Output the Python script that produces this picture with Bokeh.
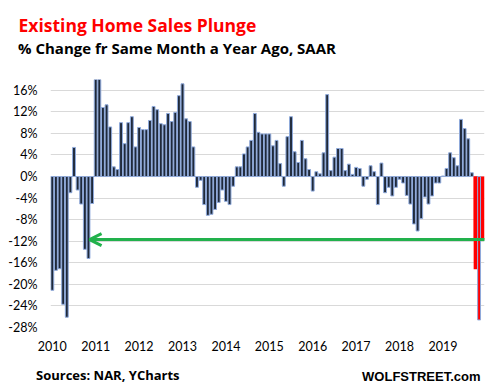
from bokeh.plotting import figure
from bokeh.layouts import column
from bokeh.models import (ColumnDataSource, FixedTicker, PrintfTickFormatter, Label,
                          Arrow, OpenHead, Range1d, Plot)
from bokeh.embed import file_html
from bokeh.resources import INLINE

# ---------------- data ----------------
# monthly y/y % change of existing home sales (SAAR), first bar labelled 2010
yoy_change = [
    -21.1, -17.4, -17.1, -23.7, -26.1, -3.0, 5.4, -2.5, -5.1, -13.5, -15.2, -5.0,
    19.5, 18.5, 12.8, 13.3, 9.2, 1.8, 1.3, 10.0, 6.1, 10.0, 11.1, 5.5,
    9.1, 8.7, 8.7, 10.4, 13.0, 12.4, 9.8, 9.6, 11.7, 10.2, 11.9, 15.0,
    17.2, 10.7, 10.2, 5.5, -2.0, -0.7, -5.2, -7.2, -7.0, -6.1, -4.8, -2.5,
    -4.6, -5.2, -1.8, 1.8, 1.8, 4.2, 5.5, 6.7, 11.7, 8.2, 7.9, 7.9,
    7.9, 5.7, 6.7, 2.4, -1.8, 7.4, 11.1, 4.6, 2.6, 6.7, 3.3, 1.3,
    -2.7, 0.9, 0.5, 4.4, 15.2, 1.1, 3.6, 5.2, 5.2, 1.1, 2.3, 0.4,
    1.7, 1.5, -1.8, -0.5, 2.0, 0.9, -5.2, 2.5, -3.0, -2.0, -3.6, -2.0,
    -0.5, -1.2, -3.5, -5.1, -8.8, -10.1, -7.8, -3.8, -5.1, -3.6, -1.2, -1.2,
    0.1, 1.5, 4.4, 3.5, 2.0, 10.6, 8.9, 7.0, 0.7,
]
plunge_values = [-17.2, -26.6]          # last two months, highlighted red
highlight_level = -11.7                  # level of the green reference arrow
arrow_tip_slot = 10.3                    # month slot where the arrow points
year_labels = ["2010", "2011", "2012", "2013", "2014", "2015", "2016", "2017", "2018", "2019"]
y_ticks = [-28, -24, -20, -16, -12, -8, -4, 0, 4, 8, 12, 16]
n_slots = 120

title_text = "Existing Home Sales Plunge"
subtitle_text = "% Change fr Same Month a Year Ago, SAAR"
source_text = "Sources: NAR, YCharts"
brand_text = "WOLFSTREET.com"

n_dark = len(yoy_change)
dark_src = ColumnDataSource(dict(x=list(range(n_dark)), top=yoy_change))
red_x = [n_dark + i for i in range(len(plunge_values))]

NAVY = "#1F2939"
EDGE = "#8FAADC"
RED = "#FF0000"
GREEN = "#22B14C"
TICK_FONT = "Lato"
TEXT_FONT = "Open Sans"
W = 490
BAR_W = 0.8
HAS_FRAME_ALIGN = "frame_align" in Plot.properties()


def text_strip(height):
    f = figure(width=W, height=height, output_backend="svg", toolbar_location=None,
               x_range=Range1d(0, W), y_range=Range1d(0, height),
               x_axis_type=None, y_axis_type=None,
               min_border=0, min_border_left=0, min_border_right=0,
               min_border_top=0, min_border_bottom=0)
    f.grid.visible = False
    f.outline_line_color = None
    if HAS_FRAME_ALIGN:
        f.frame_align = False
    return f


# ---------------- header ----------------
header = text_strip(60)
header.add_layout(Label(x=18, y=36, x_units="screen", y_units="screen",
                        text=title_text, text_font=TEXT_FONT, text_font_style="bold",
                        text_font_size="17.5px", text_color=RED,
                        text_baseline="alphabetic"))
header.add_layout(Label(x=17.5, y=12.3, x_units="screen", y_units="screen",
                        text=subtitle_text, text_font=TEXT_FONT, text_font_style="bold",
                        text_font_size="15px", text_color="#000000",
                        text_baseline="alphabetic"))

# ---------------- main chart ----------------
p = figure(width=W, height=297, output_backend="svg", toolbar_location=None,
           x_range=Range1d(-0.5, n_slots - 0.5), y_range=Range1d(-28, 18),
           min_border_left=50, min_border_right=6, min_border_top=19,
           min_border_bottom=30)
p.outline_line_color = None
p.background_fill_color = "white"
if HAS_FRAME_ALIGN:
    p.frame_align = False

p.vbar(x="x", top="top", bottom=0, width=BAR_W, source=dark_src,
       fill_color=NAVY, line_color=EDGE, line_width=1)
p.quad(left=[red_x[0] - 0.5], right=[n_slots - 0.5], top=[0], bottom=[highlight_level],
       fill_color=RED, line_color=None)
p.vbar(x=[red_x[0]], top=[plunge_values[0]], bottom=0, width=1.0,
       fill_color=RED, line_color=None)
p.vbar(x=[red_x[1]], top=[plunge_values[1]], bottom=0, width=BAR_W,
       fill_color=RED, line_color=EDGE, line_width=1)

p.add_layout(Arrow(end=OpenHead(size=12, line_color=GREEN, line_width=3),
                   x_start=n_slots + 2, y_start=highlight_level,
                   x_end=arrow_tip_slot, y_end=highlight_level,
                   line_color=GREEN, line_width=3))

p.xgrid.grid_line_color = None
p.ygrid.grid_line_color = "#D9D9D9"
p.ygrid.grid_line_width = 1
p.yaxis.ticker = FixedTicker(ticks=y_ticks)
p.ygrid.ticker = FixedTicker(ticks=y_ticks)
p.yaxis.formatter = PrintfTickFormatter(format="%d%%")
tick_pos = [12 * i for i in range(len(year_labels))]
p.xaxis.ticker = FixedTicker(ticks=tick_pos)
p.xaxis.major_label_overrides = {t: lab for t, lab in zip(tick_pos, year_labels)}
for ax in (p.xaxis, p.yaxis):
    ax.axis_line_color = None
    ax.major_tick_line_color = None
    ax.minor_tick_line_color = None
    ax.major_tick_in = 0
    ax.major_tick_out = 0
    ax.major_label_text_font = TICK_FONT
    ax.major_label_text_font_size = "12.5px"
    ax.major_label_text_color = "#000000"
p.yaxis.major_label_standoff = 13
p.xaxis.major_label_standoff = 13

# ---------------- footer ----------------
footer = text_strip(30)
footer.add_layout(Label(x=35.5, y=12.7, x_units="screen", y_units="screen",
                        text=source_text, text_font=TEXT_FONT, text_font_style="bold",
                        text_font_size="13px", text_color="#000000",
                        text_baseline="alphabetic"))
footer.add_layout(Label(x=480, y=11.3, x_units="screen", y_units="screen",
                        text=brand_text, text_font="Liberation Sans", text_align="right",
                        text_font_style="bold", text_font_size="13px", text_color="#000000",
                        text_baseline="alphabetic"))

layout = column(header, p, footer, spacing=0)
open("out.html", "w").write(file_html(layout, INLINE))
